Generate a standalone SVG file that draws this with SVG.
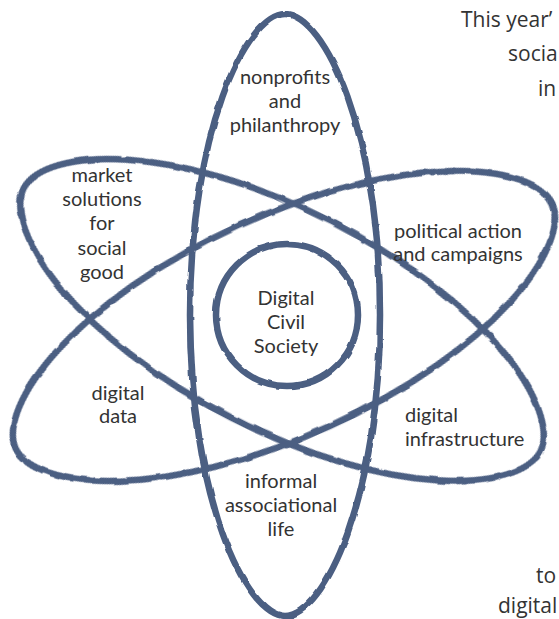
<svg xmlns="http://www.w3.org/2000/svg" width="559" height="619" viewBox="0 0 559 619">
<style>
.ring{fill:none;stroke:#4b5e82;stroke-width:6.5;stroke-linejoin:round;filter:url(#rough)}
.lbl{font-family:Lato,"Open Sans",sans-serif;font-size:20px;fill:#333;text-anchor:middle}
.side{font-family:"Open Sans","Noto Sans",sans-serif;font-size:21px;fill:#333}
</style>
<defs>
<filter id="rough" x="-5%" y="-5%" width="110%" height="110%">
<feTurbulence type="fractalNoise" baseFrequency="0.06" numOctaves="2" seed="3" result="n"/>
<feDisplacementMap in="SourceGraphic" in2="n" scale="3" xChannelSelector="R" yChannelSelector="G"/>
</filter>
<path id="lensV" d="M301,0 C300,40 182,95 0,95 C-182,95 -300,40 -301,0 C-300,-40 -182,-95 0,-95 C182,-95 300,-40 301,0 Z"/>
<path id="lensA" d="M290,0 C289,46 178,110 0,110 C-178,110 -289,46 -290,0 C-289,-46 -178,-110 0,-110 C178,-110 289,-46 290,0 Z"/>
<path id="lensB" d="M295,0 C294,46 181,110 0,110 C-181,110 -294,46 -295,0 C-294,-46 -181,-110 0,-110 C181,-110 294,-46 295,0 Z"/>
</defs>
<rect width="559" height="619" fill="#fff"/>
<g id="connectors">
<use href="#lensV" class="ring" transform="translate(285,315) rotate(90)"/>
<use href="#lensA" class="ring" transform="translate(282,320) rotate(27)"/>
<use href="#lensB" class="ring" transform="translate(284,326) rotate(-24.5)"/>
<circle class="ring" cx="287" cy="315" r="71"/>
</g>
<g id="node-center"><text class="lbl"><tspan x="286" y="305">Digital</tspan><tspan x="286" y="329">Civil</tspan><tspan x="286" y="353">Society</tspan></text></g>
<g id="node-nonprofits"><text class="lbl"><tspan x="285" y="84">nonprofits</tspan><tspan x="285" y="108">and</tspan><tspan x="285" y="132">philanthropy</tspan></text></g>
<g id="node-market"><text class="lbl"><tspan x="102" y="182">market</tspan><tspan x="102" y="206">solutions</tspan><tspan x="102" y="230">for</tspan><tspan x="102" y="255">social</tspan><tspan x="102" y="279">good</tspan></text></g>
<g id="node-political"><text class="lbl"><tspan x="458" y="238">political action</tspan><tspan x="458" y="261">and campaigns</tspan></text></g>
<g id="node-data"><text class="lbl"><tspan x="118" y="400">digital</tspan><tspan x="118" y="423">data</tspan></text></g>
<g id="node-infra"><text class="lbl" style="text-anchor:start"><tspan x="405" y="422">digital</tspan><tspan x="405" y="446">infrastructure</tspan></text></g>
<g id="node-informal"><text class="lbl"><tspan x="281" y="488">informal</tspan><tspan x="281" y="512">associational</tspan><tspan x="281" y="536">life</tspan></text></g>
<g id="side-text">
<text class="side" x="461" y="27">This year’</text>
<text class="side" x="508" y="61">socia</text>
<text class="side" x="538" y="96">in</text>
<text class="side" x="536" y="583">to</text>
<text class="side" x="498" y="613">digital</text>
</g>
</svg>
